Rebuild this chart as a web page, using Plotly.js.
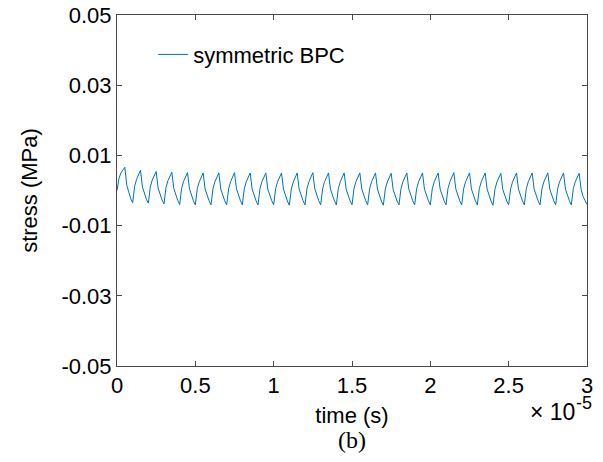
<!DOCTYPE html>
<html>
<head>
<meta charset="utf-8">
<script src="https://cdn.plot.ly/plotly-3.0.1.min.js"></script>
<style>html,body{margin:0;padding:0;background:#fff;}#chart{width:603px;height:462px;}</style>
</head>
<body>
<div id="chart"></div>
<script>
// time step between samples, in seconds (0.125 microseconds)
const timeStep = 0.125e-6;
// stress (MPa), one row per 1 µs cycle (8 samples each), plus final sample
const stress = [
  0.0000, 0.0034, 0.0050, 0.0059, 0.0066, 0.0015, -0.0008, -0.0023,
 -0.0035, 0.0012, 0.0032, 0.0046, 0.0058, 0.0010, -0.0011, -0.0025,
 -0.0036, 0.0010, 0.0030, 0.0043, 0.0054, 0.0007, -0.0013, -0.0027,
 -0.0038, 0.0008, 0.0028, 0.0041, 0.0052, 0.0006, -0.0015, -0.0028,
 -0.0040, 0.0006, 0.0026, 0.0039, 0.0051, 0.0005, -0.0016, -0.0029,
 -0.0041, 0.0005, 0.0025, 0.0038, 0.0050, 0.0004, -0.0016, -0.0029,
 -0.0041, 0.0005, 0.0025, 0.0038, 0.0050, 0.0004, -0.0016, -0.0029,
 -0.0041, 0.0005, 0.0025, 0.0038, 0.0051, 0.0005, -0.0016, -0.0029,
 -0.0041, 0.0005, 0.0025, 0.0038, 0.0050, 0.0004, -0.0016, -0.0029,
 -0.0041, 0.0005, 0.0025, 0.0038, 0.0050, 0.0004, -0.0016, -0.0029,
 -0.0041, 0.0005, 0.0025, 0.0038, 0.0050, 0.0004, -0.0016, -0.0030,
 -0.0042, 0.0004, 0.0024, 0.0037, 0.0050, 0.0004, -0.0016, -0.0029,
 -0.0041, 0.0005, 0.0025, 0.0038, 0.0051, 0.0005, -0.0016, -0.0029,
 -0.0041, 0.0005, 0.0025, 0.0038, 0.0050, 0.0004, -0.0016, -0.0029,
 -0.0041, 0.0005, 0.0025, 0.0038, 0.0050, 0.0004, -0.0016, -0.0029,
 -0.0041, 0.0005, 0.0025, 0.0038, 0.0050, 0.0004, -0.0016, -0.0029,
 -0.0041, 0.0005, 0.0025, 0.0038, 0.0050, 0.0004, -0.0016, -0.0030,
 -0.0042, 0.0004, 0.0024, 0.0037, 0.0049, 0.0003, -0.0017, -0.0030,
 -0.0041, 0.0005, 0.0025, 0.0038, 0.0050, 0.0004, -0.0016, -0.0029,
 -0.0041, 0.0005, 0.0025, 0.0038, 0.0050, 0.0004, -0.0016, -0.0029,
 -0.0041, 0.0005, 0.0025, 0.0038, 0.0050, 0.0004, -0.0016, -0.0029,
 -0.0041, 0.0005, 0.0025, 0.0038, 0.0051, 0.0005, -0.0016, -0.0029,
 -0.0041, 0.0005, 0.0025, 0.0038, 0.0050, 0.0004, -0.0016, -0.0029,
 -0.0041, 0.0005, 0.0025, 0.0038, 0.0050, 0.0004, -0.0016, -0.0030,
 -0.0042, 0.0004, 0.0024, 0.0037, 0.0049, 0.0003, -0.0017, -0.0030,
 -0.0041, 0.0005, 0.0025, 0.0038, 0.0050, 0.0004, -0.0016, -0.0029,
 -0.0041, 0.0005, 0.0025, 0.0038, 0.0050, 0.0004, -0.0016, -0.0029,
 -0.0041, 0.0005, 0.0025, 0.0038, 0.0050, 0.0004, -0.0016, -0.0029,
 -0.0041, 0.0005, 0.0025, 0.0038, 0.0050, 0.0004, -0.0016, -0.0029,
 -0.0041, 0.0005, 0.0025, 0.0038, 0.0049, 0.0003, -0.0017, -0.0029,
 -0.0040
];
const time = stress.map((_, i) => i * timeStep);

const xTickVals = [0, 0.5e-5, 1e-5, 1.5e-5, 2e-5, 2.5e-5, 3e-5];
const xTickText = ['0', '0.5', '1', '1.5', '2', '2.5', '3'];
const yTickVals = [-0.05, -0.03, -0.01, 0.01, 0.03, 0.05];
const yTickText = ['-0.05', '-0.03', '-0.01', '0.01', '0.03', '0.05'];
const seriesName = 'symmetric BPC';
const xMultiplier = '× 10';
const xExponent = '-5';

const axisColor = '#4a4a4a';
const fam = 'Liberation Sans, Arial, sans-serif';
const mkFont = (s) => ({family: fam, size: s, color: '#000'});

const trace = {
  x: time, y: stress, type: 'scatter', mode: 'lines', name: seriesName,
  line: {color: '#0072BD', width: 1}
};

const layout = {
  width: 603, height: 462,
  margin: {l: 117, r: 16, t: 15, b: 96},
  paper_bgcolor: '#fff', plot_bgcolor: '#fff',
  font: mkFont(22),
  showlegend: true,
  legend: {x: 0.077, y: 0.947, xanchor: 'left', yanchor: 'top', bgcolor: 'rgba(0,0,0,0)', borderwidth: 0,
           font: mkFont(22)},
  xaxis: {
    range: [0, 3e-5], tickvals: xTickVals, ticktext: xTickText,
    ticks: 'inside', ticklen: 5, tickcolor: axisColor, tickwidth: 1,
    showline: true, linecolor: axisColor, linewidth: 1, mirror: 'ticks',
    showgrid: false, zeroline: false,
    tickfont: mkFont(22),
    title: {text: 'time (s)', font: mkFont(22), standoff: 10}
  },
  yaxis: {
    range: [-0.05, 0.05], tickvals: yTickVals, ticktext: yTickText,
    ticks: 'inside', ticklen: 5, tickcolor: axisColor, tickwidth: 1,
    showline: true, linecolor: axisColor, linewidth: 1, mirror: 'ticks',
    showgrid: false, zeroline: false,
    tickfont: mkFont(22),
    title: {text: 'stress (MPa)', font: mkFont(22), standoff: 17}
  },
  annotations: [
    {xref: 'paper', yref: 'paper', x: 0.9766, y: 0, yshift: -46, xanchor: 'right', yanchor: 'middle',
     text: xMultiplier, showarrow: false, font: mkFont(23), borderpad: 0},
    {xref: 'paper', yref: 'paper', x: 0.9745, y: 0, yshift: -37, xanchor: 'left', yanchor: 'middle',
     text: xExponent, showarrow: false, font: mkFont(18), borderpad: 0},
    {xref: 'paper', yref: 'paper', x: 0.5, y: 0, yshift: -74, xanchor: 'center', yanchor: 'middle',
     text: '(b)', showarrow: false, font: {family: 'Liberation Serif, DejaVu Serif, serif', size: 24, color: '#000'}}
  ]
};

Plotly.newPlot('chart', [trace], layout, {displayModeBar: false, staticPlot: true});
</script>
</body>
</html>
